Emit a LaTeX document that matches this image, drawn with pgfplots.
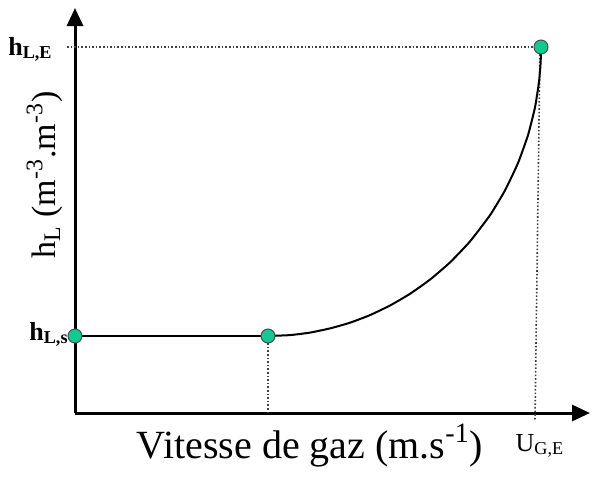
\documentclass[border=0pt]{standalone}
\usepackage{pgfplots}
\pgfplotsset{compat=1.18}
\usepackage{fontspec}
\setmainfont{Liberation Serif}
\usetikzlibrary{arrows.meta}
\definecolor{ptgreen}{RGB}{20,200,145}
\begin{document}
\begin{tikzpicture}
\begin{axis}[
  scale only axis, width=257.5pt, height=202.5pt,
  xmin=75, xmax=590, ymin=70, ymax=475,
  axis lines=left,
  axis line style={line width=1.5pt, -{Triangle[length=9pt,width=8pt]}},
  xtick=\empty, ytick=\empty, clip=false,
]
\path (axis cs:0,0) rectangle (axis cs:592,483);
% dotted guides
\addplot[densely dotted, line width=0.8pt, gray!50!black] coordinates {(268,147) (268,70)};
\addplot[densely dotted, line width=0.8pt, gray!50!black] coordinates {(67,436) (541,436)};
\addplot[densely dotted, line width=0.8pt, gray!50!black] coordinates {(540,436) (535,63)};
% curve
\addplot[line width=1pt, black] coordinates {(75,147) (268,147)};
\addplot[line width=1pt, black, line join=round, smooth, tension=0.3] coordinates {
  (268,147) (290,147.9) (310,150.4) (330,154.6) (350,160.3) (370,167.9)
  (390,177.5) (410,189.2) (430,203.4) (450,220.6) (470,241.6) (490,267.8)
  (505,292.6) (518,320.0) (528,347.9) (535,375.7) (539,401.1) (540.5,418.5)
  (540.9,428.2) (541,436)};
% points
\addplot[only marks, mark=*, mark size=3.5pt, mark options={fill=ptgreen, draw=black!70, line width=0.5pt}]
  coordinates {(75,147) (268,147) (541,436)};
% labels
\node[anchor=base east, font=\fontsize{13}{15}\selectfont\bfseries, inner sep=0pt] at (axis cs:53,428) {h\textsubscript{L,E}};
\node[anchor=base east, font=\fontsize{13}{15}\selectfont\bfseries, inner sep=0pt] at (axis cs:69,143) {h\textsubscript{L,s}};
\node[anchor=base, font=\fontsize{13}{15}\selectfont, inner sep=0pt] at (axis cs:540,32) {U\textsubscript{G,E}};
\node[anchor=base, font=\fontsize{20}{24}\selectfont, inner sep=0pt] at (axis cs:310,25) {Vitesse de gaz (m.s\textsuperscript{-1})};
\node[anchor=base, rotate=90, font=\fontsize{17}{20}\selectfont, inner sep=0pt] at (axis cs:55,308) {h\textsubscript{L} (m\textsuperscript{-3}.m\textsuperscript{-3})};
\end{axis}
\end{tikzpicture}
\end{document}
